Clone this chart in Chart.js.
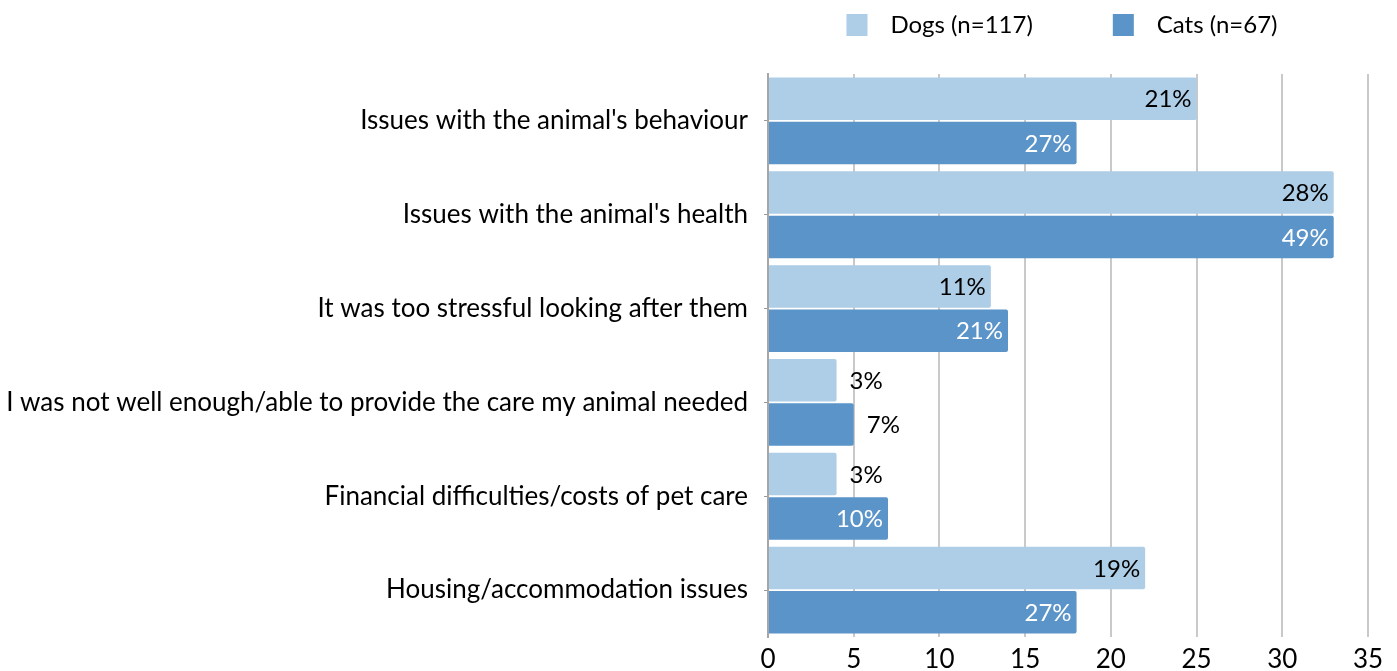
<!DOCTYPE html>
<html>
<head>
<meta charset="utf-8">
<script src="https://cdn.jsdelivr.net/npm/chart.js@4"></script>
<style>
  html, body { margin: 0; padding: 0; background: #fff; }
  #wrap { width: 1397px; height: 671px; }
</style>
</head>
<body>
<div id="wrap"><canvas id="reasonsChart"></canvas></div>
<script>
// Reasons given for giving up a pet (counts of respondents)
const reasons = [
  "Issues with the animal's behaviour",
  "Issues with the animal's health",
  "It was too stressful looking after them",
  "I was not well enough/able to provide the care my animal needed",
  "Financial difficulties/costs of pet care",
  "Housing/accommodation issues"
];
const dogCounts = [25, 33, 13, 4, 4, 22];
const catCounts = [18, 33, 14, 5, 7, 18];
const dogTotal = 117;
const catTotal = 67;
const xTicks = [0, 5, 10, 15, 20, 25, 30, 35];

const FONT = "Lato, 'Noto Sans', sans-serif";
const LIGHT = '#aecde6';
const DARK = '#5b94c8';

// percentage labels at the end of each bar
const barLabels = {
  id: 'barLabels',
  afterDatasetsDraw(chart) {
    const ctx = chart.ctx;
    ctx.save();
    ctx.font = '24px ' + FONT;
    ctx.textBaseline = 'middle';
    chart.data.datasets.forEach((ds, di) => {
      const meta = chart.getDatasetMeta(di);
      meta.data.forEach((bar, i) => {
        const txt = Math.round(ds.data[i] / ds.total * 100) + '%';
        const len = bar.x - bar.base;
        if (len > 100) {
          ctx.textAlign = 'right';
          ctx.fillStyle = ds.labelColor;
          ctx.fillText(txt, bar.x - 5, bar.y + 1);
        } else {
          ctx.textAlign = 'left';
          ctx.fillStyle = '#000';
          ctx.fillText(txt, bar.x + 13, bar.y + 1);
        }
      });
    });
    ctx.restore();
  }
};

// legend row above the plot
const topLegend = {
  id: 'topLegend',
  afterDraw(chart) {
    const ctx = chart.ctx;
    const area = chart.chartArea;
    ctx.save();
    ctx.font = '24px ' + FONT;
    ctx.textBaseline = 'middle';
    ctx.textAlign = 'left';
    const box = 21, gap = 23, spacing = 80;
    const items = chart.data.datasets.map(ds => ({
      text: ds.label, color: ds.backgroundColor, w: box + gap + ctx.measureText(ds.label).width
    }));
    const total = items.reduce((s, it) => s + it.w, 0) + spacing * (items.length - 1);
    let x = (area.left + area.right) / 2 - total / 2 - 6;
    const y = 25;
    items.forEach(it => {
      ctx.fillStyle = it.color;
      ctx.fillRect(x, y - 11, box, 22);
      ctx.fillStyle = '#000';
      ctx.fillText(it.text, x + box + gap, y);
      x += it.w + spacing;
    });
    ctx.restore();
  }
};

new Chart(document.getElementById('reasonsChart'), {
  type: 'bar',
  data: {
    labels: reasons,
    datasets: [{
      label: 'Dogs (n=' + dogTotal + ')',
      data: dogCounts,
      total: dogTotal,
      backgroundColor: LIGHT,
      labelColor: '#000',
      borderRadius: 2,
      borderSkipped: 'start'
    }, {
      label: 'Cats (n=' + catTotal + ')',
      data: catCounts,
      total: catTotal,
      backgroundColor: DARK,
      labelColor: '#fff',
      borderRadius: 2,
      borderSkipped: 'start'
    }]
  },
  options: {
    indexAxis: 'y',
    responsive: true,
    maintainAspectRatio: false,
    animation: false,
    layout: { padding: { top: 74, right: 29, bottom: 0, left: 0 } },
    datasets: {
      bar: { categoryPercentage: 0.945, barPercentage: 0.96 }
    },
    plugins: {
      legend: { display: false },
      tooltip: { enabled: false }
    },
    scales: {
      x: {
        min: 0,
        max: 35,
        afterBuildTicks(axis) {
          axis.ticks = xTicks.map(v => ({ value: v }));
        },
        afterFit(axis) { axis.height = 34; },
        grid: {
          color: ctx => ctx.tick && ctx.tick.value === 0 ? 'rgba(0,0,0,0)' : '#c9c9c9',
          lineWidth: 2,
          drawTicks: false
        },
        border: { display: false },
        ticks: {
          color: '#000',
          padding: 10,
          font: { family: FONT, size: 26, lineHeight: 1.0 }
        }
      },
      y: {
        afterFit(axis) { axis.width = 768; },
        grid: {
          offset: false,
          drawOnChartArea: false,
          tickLength: 4,
          color: '#9a9a9a'
        },
        border: { color: '#a6a6a6', width: 2 },
        ticks: {
          color: '#000',
          padding: 16,
          font: { family: FONT, size: 26 }
        }
      }
    }
  },
  plugins: [barLabels, topLegend]
});
</script>
</body>
</html>
